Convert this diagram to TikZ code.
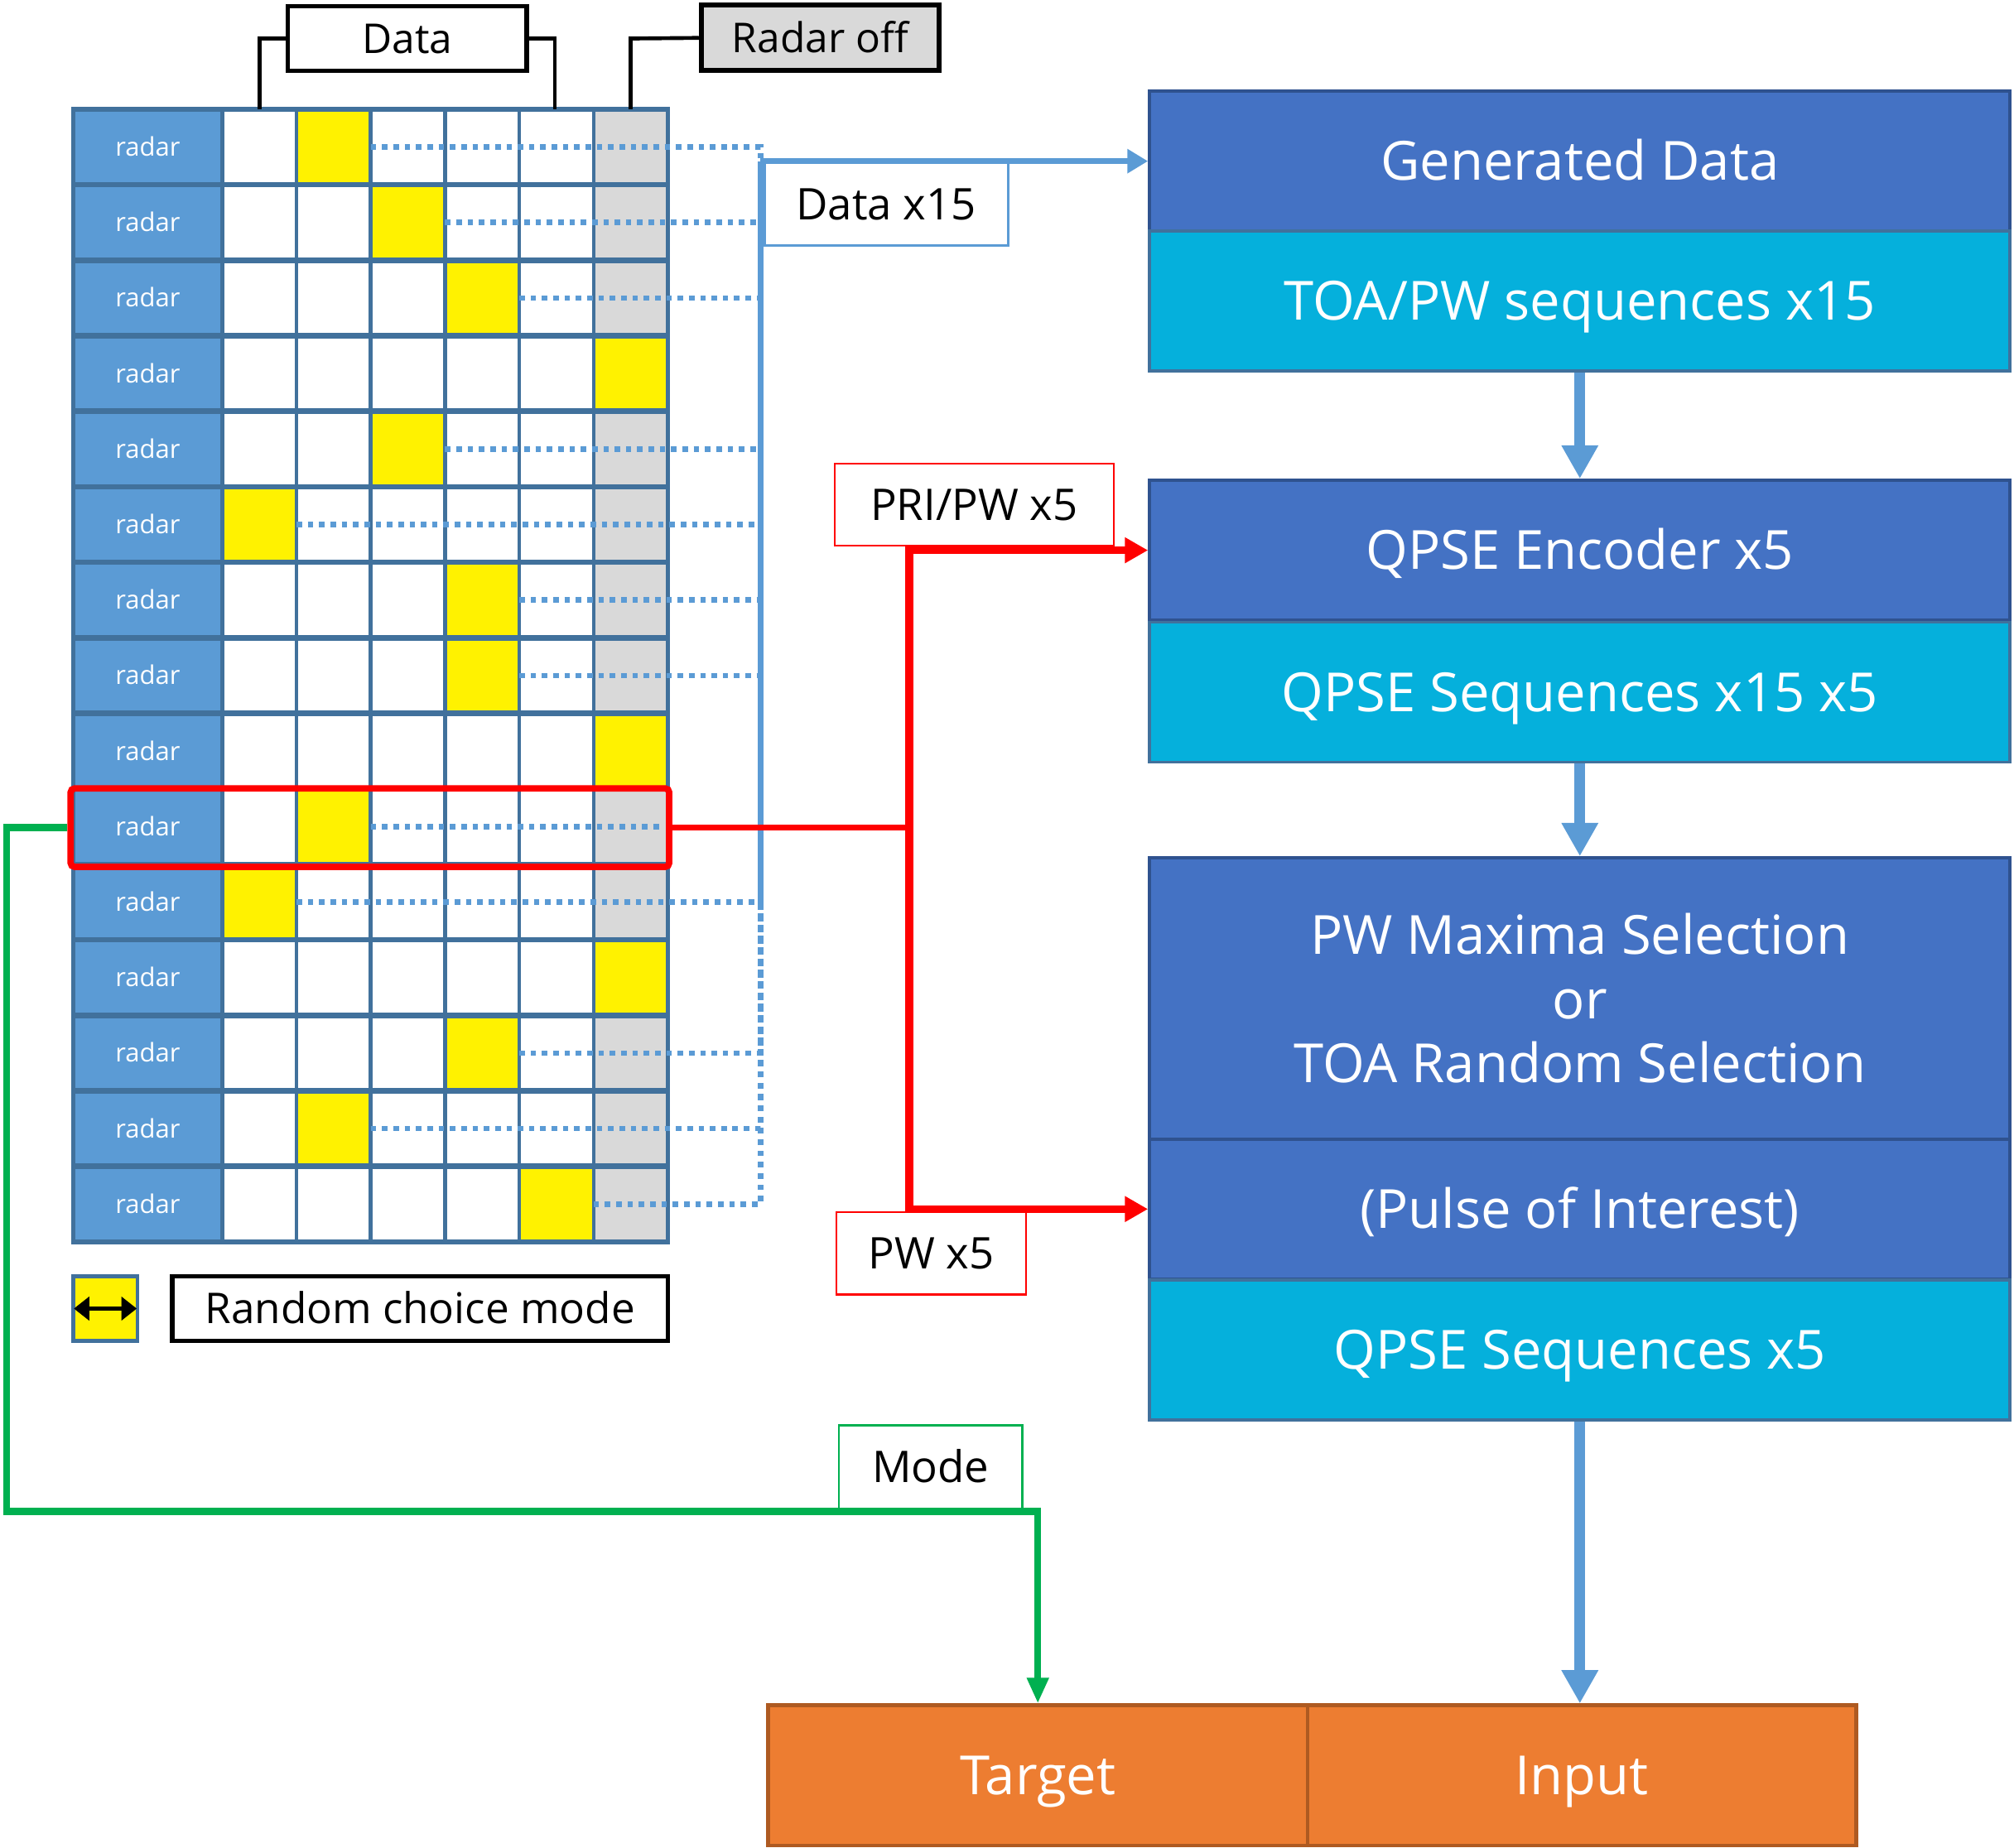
\documentclass[tikz,border=0pt]{standalone}
\usepackage{fontspec}
\setmainfont{Open Sans}
\usetikzlibrary{arrows.meta,calc}
\definecolor{gridblue}{HTML}{41719C}
\definecolor{radarblue}{HTML}{5B9BD5}
\definecolor{dkblue}{HTML}{4472C4}
\definecolor{dkborder}{HTML}{2F528F}
\definecolor{cyanfill}{HTML}{05B0DC}
\definecolor{cellgray}{HTML}{D9D9D9}
\definecolor{orangefill}{HTML}{ED7D31}
\definecolor{orangeborder}{HTML}{AE5A21}
\definecolor{greenline}{HTML}{00B050}
\definecolor{redline}{HTML}{FF0000}
\newcommand\fsz[2]{\fontsize{#1}{#2}\selectfont}
\begin{document}
\begin{tikzpicture}[x=1pt,y=-1pt,
  radarcell/.style={rectangle, fill=radarblue, draw=gridblue, line width=2pt, minimum width=116pt, minimum height=58.8pt, inner sep=0pt, text=white, font=\fsz{20}{24}, text height=14.3pt, text depth=0pt},
  blk/.style={rectangle, draw=dkborder, fill=dkblue, line width=2.5pt, minimum width=670pt, minimum height=109pt, inner sep=0pt, text=white, font=\fsz{42}{50}, align=center},
  onecap/.style={text height=30pt, text depth=0pt},
  darkblk/.style={blk, onecap},
  cyanblk/.style={blk, onecap, fill=cyanfill, draw=gridblue},
  orangeblk/.style={rectangle, draw=orangeborder, fill=orangefill, line width=3pt, minimum height=109pt, inner sep=0pt, text=white, font=\fsz{42}{50}, onecap},
  lbl/.style={rectangle, fill=white, inner sep=0pt, font=\fsz{34}{40}, text height=24.3pt, text depth=0pt},
  redlbl/.style={lbl, draw=redline, line width=1.5pt, minimum height=64pt},
  toplbl/.style={rectangle, inner sep=0pt, font=\fsz{32}{38}, text height=22.8pt, text depth=0pt, draw=black},
  bracket/.style={draw=black, line width=3pt, line join=miter},
  dotline/.style={draw=radarblue, line width=4.3pt, dash pattern=on 4.3pt off 4.5pt, line join=miter},
  redconn/.style={draw=redline, line width=6pt, line join=miter},
  greenconn/.style={draw=greenline, line width=5.4pt, line join=miter},
  bluearrow/.style={draw=radarblue, line width=8.5pt, -{Triangle[length=26pt,width=27pt]}}
]
\useasboundingbox (0,0) rectangle (1568,1439);

% ---------- grid rows ----------
\foreach \i/\c in {1/2,2/3,3/4,4/6,5/3,6/1,7/4,8/4,9/6,10/2,11/1,12/6,13/4,14/2,15/5}{
  \pgfmathsetmacro\yt{85+(\i-1)*58.8}
  \pgfmathsetmacro\yc{\yt+29.4}
  \pgfmathsetmacro\xl{173+(\c-1)*57.83}
  \fill[white] (173,\yt) rectangle (462,\yt+58.8);
  \fill[cellgray] (462,\yt) rectangle (520,\yt+58.8);
  \fill[yellow] (\xl,\yt) rectangle (\xl+57.83,\yt+58.8);
  \node[radarcell] (r\i) at (115,\yc) {radar};
}
% vertical grid lines
\foreach \x in {173,230.83,288.67,346.5,404.33,462.17}{
  \draw[gridblue, line width=3pt] (\x,85) -- (\x,967);
}
% horizontal grid lines
\foreach \k in {1,...,14}{
  \draw[gridblue, line width=4.3pt] (57,85+\k*58.8) -- (520,85+\k*58.8);
}
\draw[gridblue, line width=3.5pt] (57,85) rectangle (520,967);

% ---------- right blocks ----------
\node[darkblk] (gen) at (1230,125.5) {Generated Data};
\node[cyanblk] (toa) at (1230,234.5) {TOA/PW sequences x15};
\node[darkblk] (enc) at (1230,428.5) {QPSE Encoder x5};
\node[cyanblk] (q15) at (1230,539) {QPSE Sequences x15 x5};
\node[blk, minimum height=219pt] (pwm) at (1230,777.5) {PW Maxima Selection\\or\\TOA Random Selection};
\node[darkblk] (poi) at (1230,941.5) {(Pulse of Interest)};
\node[cyanblk] (q5) at (1230,1051) {QPSE Sequences x5};

\node[orangeblk, minimum width=420pt] (target) at (808,1382.5) {Target};
\node[orangeblk, minimum width=427pt] (input) at (1231.5,1382.5) {Input};

% dotted data connectors (each row joins the vertical collector)
\coordinate (dstart) at (592,125.5);
\foreach \i/\c in {1/2,2/3,3/4,5/3,6/1,7/4,8/4,11/1,13/4,14/2,15/5}{
  \pgfmathsetmacro\yc{85+(\i-1)*58.8+29.4}
  \pgfmathsetmacro\xr{173+\c*57.83}
  \draw[dotline] (\xr,\yc) -- (592,\yc) -- (dstart);
}
\draw[dotline] (288.67,643.6) -- (517,643.6);

% generated data connector
\draw[draw=radarblue, line width=4.3pt, -{Triangle[length=16pt,width=18pt]}] (dstart) -- (gen.west);
\node[lbl, draw=radarblue, line width=1.7pt, minimum width=190pt, minimum height=64pt] (d15) at (690,159) {Data x15};
\draw[draw=radarblue, line width=4.3pt] (d15.north west) -- (d15.south west);

% blue arrows
\draw[bluearrow] (toa.south) -- (enc.north);
\draw[bluearrow] (q15.south) -- (pwm.north);
\draw[bluearrow] (q5.south) -- (q5.south |- input.north);

% ---------- red selection ----------
\node[draw=redline, line width=5pt, rounded corners=3pt, minimum width=466pt, minimum height=61pt, inner sep=0pt] (redbox) at (288,644.5) {};
\coordinate (rj) at (708,644.5);
\coordinate (rt) at (708,428.5);
\coordinate (rb) at (708,941.5);
\draw[draw=redline, line width=4.5pt] (redbox.east) -- (rj);
\draw[redconn, {Triangle[length=18pt,width=19pt]}-{Triangle[length=18pt,width=19pt]}] (enc.west) -- (rt) -- (rb) -- (poi.west);
\node[redlbl, minimum width=217pt] (pri) at (758.5,393) {PRI/PW x5};
\node[redlbl, minimum width=148pt] (pwl) at (725,976) {PW x5};

% ---------- green mode ----------
\coordinate (g1) at (5,644.5);
\coordinate (g2) at (5,1177);
\coordinate (g3) at (808,1177);
\draw[greenconn, -{Triangle[length=20pt,width=16pt]}] (redbox.west) -- (g1) -- (g2) -- (g3) -- (target.north);
\node[lbl, draw=greenline, line width=1.5pt, minimum width=143pt, minimum height=65pt] (mode) at (724.5,1142.5) {Mode};

% ---------- top labels ----------
\node[toplbl, line width=3.5pt, minimum width=186pt, minimum height=50pt] (data) at (317,30) {Data};
\draw[bracket] (data.west) -- (202,30) -- (202,85);
\draw[bracket] (data.east) -- (432,30) -- (432,85);
\node[toplbl, fill=cellgray, line width=4pt, minimum width=185pt, minimum height=51pt] (roff) at (638.5,29.5) {Radar off};
\draw[bracket] (roff.west) -- (491,30) -- (491,85);

% ---------- legend ----------
\node[rectangle, fill=yellow, draw=gridblue, line width=3pt, minimum size=50pt, inner sep=0pt] (leg) at (82,1019) {};
\draw[black, line width=3pt, {Triangle[length=12pt,width=18pt]}-{Triangle[length=12pt,width=18pt]}] ($(leg.west)+(2,0)$) -- ($(leg.east)+(-2,0)$);
\node[toplbl, font=\fsz{33}{40}, text height=23.6pt, line width=3.5pt, minimum width=386pt, minimum height=50pt] (rcm) at (327,1019) {Random choice mode};
\end{tikzpicture}
\end{document}
